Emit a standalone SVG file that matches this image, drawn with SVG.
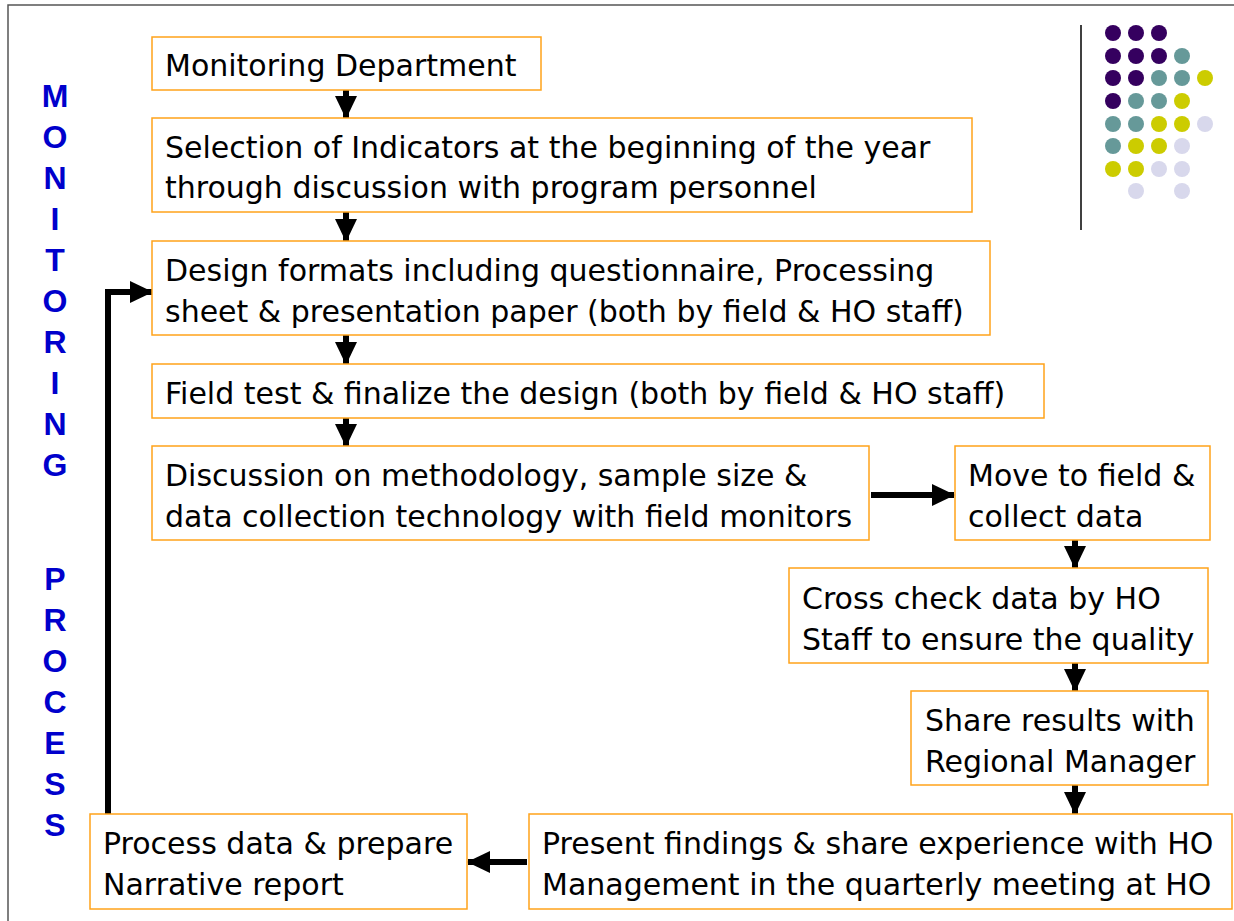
<svg xmlns="http://www.w3.org/2000/svg" width="1234" height="921" viewBox="0 0 1234 921">
  <style>
    .box { fill: #ffffff; stroke: #FFA31A; stroke-width: 1.5; }
    .lbl { font-family: "DejaVu Sans", Verdana, sans-serif; font-size: 30px; fill: #000000; }
    .side { font-family: "Liberation Sans", Arial, sans-serif; font-weight: bold; font-size: 32px; fill: #0000CC; text-anchor: middle; }
    .link { stroke: #000000; stroke-width: 6; fill: none; }
    .p { fill: #35005F; } .t { fill: #669999; } .y { fill: #CCCC00; } .l { fill: #D8D8EC; }
  </style>
  <defs>
    <marker id="head" markerUnits="userSpaceOnUse" markerWidth="24" markerHeight="24" viewBox="0 0 24 24" refX="22" refY="12" orient="auto">
      <path d="M0,1 L23,12 L0,23 Z" fill="#000000"/>
    </marker>
  </defs>

  <rect x="0" y="0" width="1234" height="921" fill="#ffffff"/>
  <!-- slide frame -->
  <path d="M8,921 V5 H1234" fill="none" stroke="#555555" stroke-width="1.5"/>

  <!-- decorative dot grid -->
  <g id="dots">
    <line x1="1081" y1="25" x2="1081" y2="230" stroke="#000000" stroke-width="1.5"/>
    <circle class="p" cx="1113" cy="33" r="8"/><circle class="p" cx="1136" cy="33" r="8"/><circle class="p" cx="1159" cy="33" r="8"/>
    <circle class="p" cx="1113" cy="56" r="8"/><circle class="p" cx="1136" cy="56" r="8"/><circle class="p" cx="1159" cy="56" r="8"/><circle class="t" cx="1182" cy="56" r="8"/>
    <circle class="p" cx="1113" cy="78" r="8"/><circle class="p" cx="1136" cy="78" r="8"/><circle class="t" cx="1159" cy="78" r="8"/><circle class="t" cx="1182" cy="78" r="8"/><circle class="y" cx="1205" cy="78" r="8"/>
    <circle class="p" cx="1113" cy="101" r="8"/><circle class="t" cx="1136" cy="101" r="8"/><circle class="t" cx="1159" cy="101" r="8"/><circle class="y" cx="1182" cy="101" r="8"/>
    <circle class="t" cx="1113" cy="124" r="8"/><circle class="t" cx="1136" cy="124" r="8"/><circle class="y" cx="1159" cy="124" r="8"/><circle class="y" cx="1182" cy="124" r="8"/><circle class="l" cx="1205" cy="124" r="8"/>
    <circle class="t" cx="1113" cy="146" r="8"/><circle class="y" cx="1136" cy="146" r="8"/><circle class="y" cx="1159" cy="146" r="8"/><circle class="l" cx="1182" cy="146" r="8"/>
    <circle class="y" cx="1113" cy="169" r="8"/><circle class="y" cx="1136" cy="169" r="8"/><circle class="l" cx="1159" cy="169" r="8"/><circle class="l" cx="1182" cy="169" r="8"/>
    <circle class="l" cx="1136" cy="191" r="8"/><circle class="l" cx="1182" cy="191" r="8"/>
  </g>

  <!-- vertical side title -->
  <g id="side-title">
    <text class="side" x="55" y="107">M</text>
    <text class="side" x="55" y="148">O</text>
    <text class="side" x="55" y="189">N</text>
    <text class="side" x="55" y="230">I</text>
    <text class="side" x="55" y="271">T</text>
    <text class="side" x="55" y="312">O</text>
    <text class="side" x="55" y="353">R</text>
    <text class="side" x="55" y="394">I</text>
    <text class="side" x="55" y="435">N</text>
    <text class="side" x="55" y="476">G</text>
    <text class="side" x="55" y="590">P</text>
    <text class="side" x="55" y="631">R</text>
    <text class="side" x="55" y="672">O</text>
    <text class="side" x="55" y="713">C</text>
    <text class="side" x="55" y="754">E</text>
    <text class="side" x="55" y="795">S</text>
    <text class="side" x="55" y="836">S</text>
  </g>

  <!-- connectors -->
  <g id="connectors">
    <line class="link" x1="346" y1="87" x2="346" y2="118" marker-end="url(#head)"/>
    <line class="link" x1="346" y1="210" x2="346" y2="241" marker-end="url(#head)"/>
    <line class="link" x1="346" y1="333" x2="346" y2="364" marker-end="url(#head)"/>
    <line class="link" x1="346" y1="416" x2="346" y2="446" marker-end="url(#head)"/>
    <line class="link" x1="871" y1="495" x2="954" y2="495" marker-end="url(#head)"/>
    <line class="link" x1="1075" y1="538" x2="1075" y2="568" marker-end="url(#head)"/>
    <line class="link" x1="1075" y1="661" x2="1075" y2="691" marker-end="url(#head)"/>
    <line class="link" x1="1075" y1="783" x2="1075" y2="814" marker-end="url(#head)"/>
    <line class="link" x1="527" y1="862" x2="468" y2="862" marker-end="url(#head)"/>
    <path class="link" d="M108,814 V292 H152" stroke-width="8" marker-end="url(#head)"/>
  </g>

  <!-- process steps -->
  <g id="step-department">
    <rect class="box" x="152" y="37" width="389" height="53"/>
    <text class="lbl" x="165" y="76">Monitoring Department</text>
  </g>
  <g id="step-indicators">
    <rect class="box" x="152" y="118" width="820" height="94"/>
    <text class="lbl" x="165" y="158">Selection of Indicators at the beginning of the year</text>
    <text class="lbl" x="165" y="198">through discussion with program personnel</text>
  </g>
  <g id="step-design">
    <rect class="box" x="152" y="241" width="838" height="94"/>
    <text class="lbl" x="165" y="281">Design formats including questionnaire, Processing</text>
    <text class="lbl" x="165" y="322">sheet &amp; presentation paper (both by field &amp; HO staff)</text>
  </g>
  <g id="step-fieldtest">
    <rect class="box" x="152" y="364" width="892" height="54"/>
    <text class="lbl" x="165" y="404">Field test &amp; finalize the design (both by field &amp; HO staff)</text>
  </g>
  <g id="step-methodology">
    <rect class="box" x="152" y="446" width="717" height="94"/>
    <text class="lbl" x="165" y="486">Discussion on methodology, sample size &amp;</text>
    <text class="lbl" x="165" y="527">data collection technology with field monitors</text>
  </g>
  <g id="step-collect">
    <rect class="box" x="955" y="446" width="255" height="94"/>
    <text class="lbl" x="968" y="486">Move to field &amp;</text>
    <text class="lbl" x="968" y="527">collect data</text>
  </g>
  <g id="step-crosscheck">
    <rect class="box" x="789" y="568" width="419" height="95"/>
    <text class="lbl" x="802" y="609">Cross check data by HO</text>
    <text class="lbl" x="802" y="650">Staff to ensure the quality</text>
  </g>
  <g id="step-share">
    <rect class="box" x="911" y="691" width="297" height="94"/>
    <text class="lbl" x="925" y="731">Share results with</text>
    <text class="lbl" x="925" y="772">Regional Manager</text>
  </g>
  <g id="step-present">
    <rect class="box" x="529" y="814" width="703" height="95"/>
    <text class="lbl" x="542" y="854">Present findings &amp; share experience with HO</text>
    <text class="lbl" x="542" y="895">Management in the quarterly meeting at HO</text>
  </g>
  <g id="step-report">
    <rect class="box" x="90" y="814" width="377" height="95"/>
    <text class="lbl" x="103" y="854">Process data &amp; prepare</text>
    <text class="lbl" x="103" y="895">Narrative report</text>
  </g>
</svg>
